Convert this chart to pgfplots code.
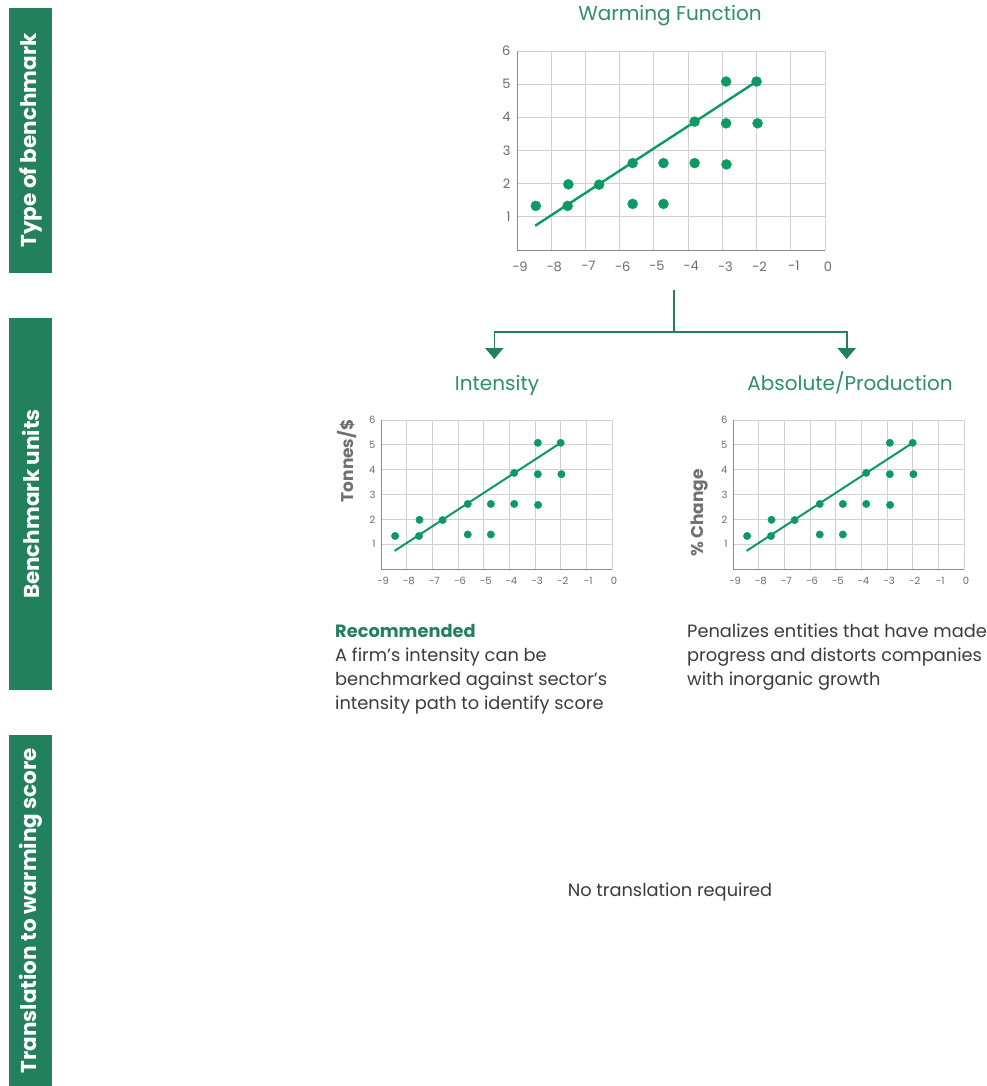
\documentclass[border=0pt]{standalone}
\usepackage{pgfplots}
\pgfplotsset{compat=1.18}
\usepackage{pgfplotstable}
\usepackage{fontspec}
\setmainfont{Poppins}
\definecolor{barGreen}{HTML}{23805C}
\definecolor{dotGreen}{HTML}{0C9A62}
\definecolor{titleGreen}{HTML}{2E8F66}
\definecolor{axisGray}{HTML}{8A8A8A}
\definecolor{gridGray}{HTML}{D2D2D2}
\definecolor{tickGray}{HTML}{6B6B6B}
\definecolor{labelGray}{HTML}{707070}
\definecolor{bodyGray}{HTML}{3B3B3B}

\pgfplotstableread{
x y
-8.45 1.33
-7.50 1.98
-7.52 1.33
-6.60 1.97
-5.62 2.62
-5.62 1.39
-4.72 2.62
-4.72 1.39
-3.81 3.87
-3.81 2.62
-2.89 5.08
-2.89 3.82
-2.88 2.58
-2.00 5.08
-1.97 3.82
}\pts
\pgfplotstableread{
x y
-8.47 0.73
-2.00 5.08
}\fitline

\pgfplotsset{
  bench/.style={
    scale only axis, anchor=south west,
    xmin=-9, xmax=0, ymin=0, ymax=6,
    axis lines=left,
    axis line style={-, draw=axisGray, line width=1pt},
    grid=major,
    major grid style={draw=gridGray, line width=0.9pt},
    xtick={-9,-8,-7,-6,-5,-4,-3,-2,-1,0},
    xticklabels={−9,−8,−7,−6,−5,−4,−3,−2,−1,0},
    ytick={1,2,3,4,5,6},
    yticklabels={1,2,3,4,5,6},
    major tick length=0pt,
    tick label style={text=tickGray},
    clip=false,
  }
}

\begin{document}
\begin{tikzpicture}[x=1pt,y=-1pt]
\path[use as bounding box] (0,0) rectangle (986,1086);

% left bars
\fill[barGreen] (9,8) rectangle (52,273);
\fill[barGreen] (9,318) rectangle (52,690);
\fill[barGreen] (9,735) rectangle (52,1086);
\node[rotate=90, text=white, font=\fontsize{21.5}{23}\bfseries\selectfont] at (31,140.5) {Type of benchmark};
\node[rotate=90, text=white, font=\fontsize{21.5}{23}\bfseries\selectfont] at (31,504) {Benchmark units};
\node[rotate=90, text=white, font=\fontsize{21.5}{23}\bfseries\selectfont] at (31,910.5) {Translation to warming score};

% main chart
\node[anchor=base, text=titleGreen, font=\fontsize{20}{22}\selectfont] at (670,21) {Warming Function};
\begin{axis}[bench, at={(517pt,-250pt)}, width=308pt, height=199pt,
  tick label style={font=\fontsize{13}{14}\selectfont},
  yticklabel style={xshift=-3pt}, xticklabel style={yshift=-8pt, xshift=3pt}]
  \addplot[draw=dotGreen, line width=2.4pt] table[x=x,y=y] {\fitline};
  \addplot[only marks, mark=*, mark size=5pt, mark options={fill=dotGreen, draw=dotGreen}] table[x=x,y=y] {\pts};
\end{axis}

% connector
\draw[barGreen, line width=1.6pt] (674,290) -- (674,332);
\draw[barGreen, line width=1.6pt] (494.3,348) -- (494.3,332) -- (846.7,332) -- (846.7,348);
\fill[barGreen] (485,348) -- (503.6,348) -- (494.3,359) -- cycle;
\fill[barGreen] (837.4,348) -- (856,348) -- (846.7,359) -- cycle;

% sub titles
\node[anchor=base, text=titleGreen, font=\fontsize{20}{22}\selectfont] at (497,390) {Intensity};
\node[anchor=base, text=titleGreen, font=\fontsize{20}{22}\selectfont] at (850,390) {Absolute/Production};

% intensity chart
\begin{axis}[bench, at={(381pt,-569pt)}, width=231pt, height=149pt,
  tick label style={font=\fontsize{10}{11}\selectfont},
  yticklabel style={xshift=-2pt}, xticklabel style={yshift=-5pt, xshift=2pt}]
  \addplot[draw=dotGreen, line width=2pt] table[x=x,y=y] {\fitline};
  \addplot[only marks, mark=*, mark size=3.7pt, mark options={fill=dotGreen, draw=dotGreen}] table[x=x,y=y] {\pts};
\end{axis}
\node[rotate=90, text=labelGray, font=\fontsize{17}{19}\bfseries\selectfont] at (347,461) {Tonnes/\$};

% absolute chart
\begin{axis}[bench, at={(733pt,-569pt)}, width=231pt, height=149pt,
  tick label style={font=\fontsize{10}{11}\selectfont},
  yticklabel style={xshift=-2pt}, xticklabel style={yshift=-5pt, xshift=2pt}]
  \addplot[draw=dotGreen, line width=2pt] table[x=x,y=y] {\fitline};
  \addplot[only marks, mark=*, mark size=3.7pt, mark options={fill=dotGreen, draw=dotGreen}] table[x=x,y=y] {\pts};
\end{axis}
\node[rotate=90, text=labelGray, font=\fontsize{17}{19}\bfseries\selectfont] at (700,513) {\% Change};

% body text
\tikzset{body/.style={anchor=base west, inner sep=0pt, text=bodyGray, font=\fontsize{17.8}{24}\selectfont}}
\node[body, text=barGreen, font=\fontsize{17.8}{24}\bfseries\selectfont] at (335,637) {Recommended};
\node[body] at (335,661) {A firm’s intensity can be};
\node[body] at (335,685) {benchmarked against sector’s};
\node[body] at (335,709) {intensity path to identify score};

\node[body] at (687,637) {Penalizes entities that have made};
\node[body] at (687,661) {progress and distorts companies};
\node[body] at (687,685) {with inorganic growth};

\node[body, anchor=base] at (670,896) {No translation required};
\end{tikzpicture}
\end{document}
